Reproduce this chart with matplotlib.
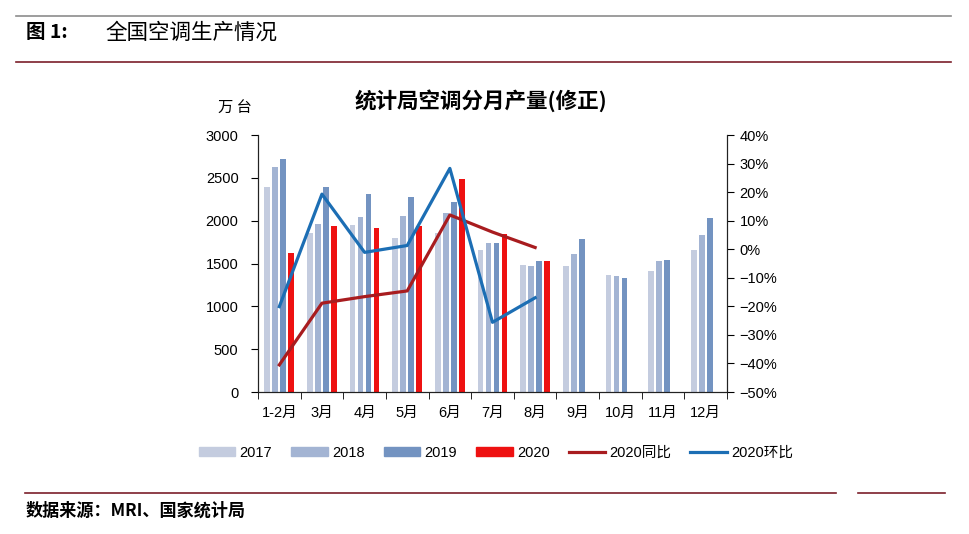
import matplotlib
matplotlib.use("Agg")
import matplotlib.pyplot as plt
import numpy as np
from matplotlib.patches import Patch
from matplotlib.lines import Line2D

plt.rcParams['font.family'] = ['Liberation Sans', 'Noto Sans CJK SC', 'DejaVu Sans']
plt.rcParams['axes.unicode_minus'] = True

months = ["1-2月", "3月", "4月", "5月", "6月", "7月", "8月", "9月", "10月", "11月", "12月"]
y2017 = [2396, 1859, 1949, 1801, 1859, 1657, 1482, 1470, 1365, 1412, 1657]
y2018 = [2629, 1960, 2046, 2054, 2085, 1735, 1470, 1610, 1353, 1528, 1832]
y2019 = [2719, 2396, 2310, 2279, 2221, 1735, 1528, 1785, 1330, 1540, 2030]
y2020 = [1626, 1937, 1909, 1937, 2485, 1840, 1528]
yoy2020 = [-40.5, -18.9, -16.6, -14.6, 12.0, 6.0, 0.6]
mom2020 = [-20.1, 19.3, -1.1, 1.3, 28.3, -25.6, -17.0]

c17, c18, c19, c20 = "#C4CCDF", "#A3B4D3", "#7393C1", "#EE1111"
c_yoy, c_mom = "#A81C1F", "#1C6EB4"

fig = plt.figure(figsize=(9.70, 5.34), dpi=100)

# header / footer decoration
fig.add_artist(Line2D([16/970, 951/970], [1-16/534]*2, color="#8C8C8C", lw=1.2))
fig.add_artist(Line2D([16/970, 951/970], [1-62/534]*2, color="#7B1F2A", lw=1.2))
fig.text(26/970, 1-33/534, "图 1:", fontsize=14, fontweight="bold", va="center",
         family=["Noto Sans CJK SC"])
fig.text(105/970, 1-33/534, "全国空调生产情况", fontsize=15.5, va="center",
         family=["Noto Sans CJK SC"])
fig.add_artist(Line2D([25/970, 836/970], [1-493/534]*2, color="#7B1F2A", lw=1.2))
fig.add_artist(Line2D([858/970, 945/970], [1-493/534]*2, color="#7B1F2A", lw=1.2))
fig.text(26/970, 1-511/534, "数据来源：MRI、国家统计局", fontsize=12.3, fontweight="bold",
         va="center", family=["Noto Sans CJK SC"])

ax = fig.add_axes([258/970, 1-392/534, (727-258)/970, (392-135)/534])
x = np.arange(len(months))
sp, w = 0.188, 0.134
ax.bar(x - 1.5*sp, y2017, w, color=c17)
ax.bar(x - 0.5*sp, y2018, w, color=c18)
ax.bar(x + 0.5*sp, y2019, w, color=c19)
ax.bar(x[:len(y2020)] + 1.5*sp, y2020, w, color=c20)
ax.set_xlim(-0.5, len(months) - 0.5)
ax.set_ylim(0, 3000)
ax.set_yticks(np.arange(0, 3001, 500))
ax.set_xticks(x)
ax.set_xticklabels(months)
ax.set_xticks(np.arange(-0.5, len(months), 1), minor=True)
ax.tick_params(axis="x", which="major", length=0, pad=10, labelsize=10.5)
ax.tick_params(axis="x", which="minor", length=5, direction="out")
ax.tick_params(axis="y", length=5, direction="out", labelsize=10.5, pad=9)
ax.spines["top"].set_visible(False)
for s in ["left", "bottom", "right"]:
    ax.spines[s].set_color("#222222")

ax2 = ax.twinx()
ax2.plot(x[:len(yoy2020)], yoy2020, color=c_yoy, lw=2.3)
ax2.plot(x[:len(mom2020)], mom2020, color=c_mom, lw=2.3)
ax2.set_ylim(-50, 40)
ax2.set_yticks(np.arange(-50, 41, 10))
ax2.set_yticklabels([f"{v}%".replace("-", "\u2212") for v in range(-50, 41, 10)])
ax2.tick_params(axis="y", length=5, direction="out", labelsize=10.5, pad=4)
ax2.spines["top"].set_visible(False)
for s in ["left", "bottom", "right"]:
    ax2.spines[s].set_color("#222222")

fig.text(481/970, 1-101/534, "统计局空调分月产量(修正)", fontsize=15.5, fontweight="bold",
         ha="center", va="center", family=["Noto Sans CJK SC"])
fig.text(235/970, 1-108/534, "万 台", fontsize=11, ha="center", va="center",
         family=["Noto Sans CJK SC"])

handles = [Patch(color=c17), Patch(color=c18), Patch(color=c19), Patch(color=c20),
           Line2D([], [], color=c_yoy, lw=2.3), Line2D([], [], color=c_mom, lw=2.3)]
labels = ["2017", "2018", "2019", "2020", "2020同比", "2020环比"]
fig.legend(handles, labels, loc="center", bbox_to_anchor=(496/970, 1-453/534), ncol=6,
           frameon=False, fontsize=10.5, handlelength=2.5, handleheight=0.55,
           handletextpad=0.3, columnspacing=1.3)

fig.savefig("out.png", dpi=100)
